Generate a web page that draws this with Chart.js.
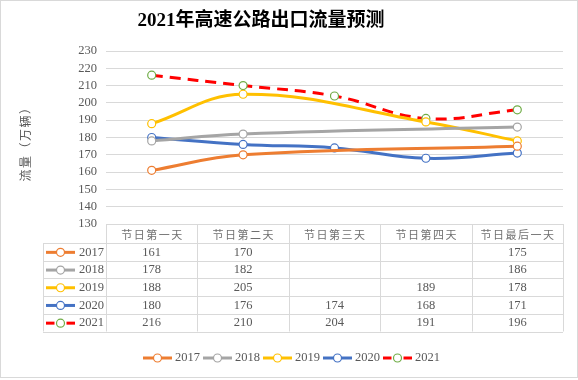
<!DOCTYPE html>
<html>
<head>
<meta charset="utf-8">
<script src="https://cdn.jsdelivr.net/npm/chart.js@4/dist/chart.umd.min.js"></script>
<style>
  html, body { margin: 0; padding: 0; background: #fff; }
  #wrap { width: 578px; height: 380px; }
</style>
</head>
<body>
<div id="wrap"><canvas id="c" width="578" height="380"></canvas></div>
<script>
// data
const categories = ["节日第一天", "节日第二天", "节日第三天", "节日第四天", "节日最后一天"];
const years = ["2017", "2018", "2019", "2020", "2021"];
const flow2017 = [161, 170, null, null, 175];
const flow2018 = [178, 182, null, null, 186];
const flow2019 = [188, 205, null, 189, 178];
const flow2020 = [180, 176, 174, 168, 171];
const flow2021 = [216, 210, 204, 191, 196];
const yMin = 130, yMax = 230, yStep = 10;

const serif = '"Liberation Serif", "Noto Sans CJK SC", serif';
const cjk = '"Noto Sans CJK SC", sans-serif';
const textGray = "#595959";
const lineGray = "#d9d9d9";

const lineColors = ["#ED7D31", "#A5A5A5", "#FFC000", "#4472C4", "#FF0000"];
const markerColors = ["#ED7D31", "#A5A5A5", "#FFC000", "#4472C4", "#70AD47"];
const allFlows = [flow2017, flow2018, flow2019, flow2020, flow2021];

const datasets = years.map((y, i) => ({
  label: y,
  data: allFlows[i],
  borderColor: lineColors[i],
  borderWidth: 3,
  borderDash: i === 4 ? [11, 7] : [],
  pointRadius: 4,
  pointHoverRadius: 4,
  pointBackgroundColor: "#fff",
  pointBorderColor: markerColors[i],
  pointBorderWidth: 1.2,
  tension: 0.4,
  spanGaps: true,
  fill: false
}));

// little line + circle key, used in the table and the legend
function drawKey(ctx, ds, x0, x1, y) {
  ctx.save();
  ctx.strokeStyle = ds.borderColor;
  ctx.lineWidth = 3;
  const cx = (x0 + x1) / 2;
  if (ds.borderDash.length) {
    ctx.beginPath(); ctx.moveTo(x0, y); ctx.lineTo(cx - 6, y); ctx.stroke();
    ctx.beginPath(); ctx.moveTo(cx + 6, y); ctx.lineTo(x1, y); ctx.stroke();
  } else {
    ctx.beginPath(); ctx.moveTo(x0, y); ctx.lineTo(x1, y); ctx.stroke();
  }
  ctx.beginPath();
  ctx.arc(cx, y, 4, 0, Math.PI * 2);
  ctx.fillStyle = "#fff"; ctx.fill();
  ctx.lineWidth = 1.2; ctx.strokeStyle = ds.pointBorderColor; ctx.stroke();
  ctx.restore();
}

const decor = {
  id: "decor",
  beforeDraw(chart) {
    const ctx = chart.ctx;
    ctx.save();
    ctx.fillStyle = "#fff";
    ctx.fillRect(0, 0, chart.width, chart.height);
    ctx.strokeStyle = lineGray;
    ctx.lineWidth = 1;
    ctx.strokeRect(0.5, 0.5, 577, 377);
    ctx.restore();
  },
  afterDraw(chart) {
    const ctx = chart.ctx;
    const area = chart.chartArea;
    const xs = chart.scales.x;
    const n = categories.length;
    const colW = area.width / n;

    ctx.save();
    // title
    ctx.fillStyle = "#000";
    ctx.font = "bold 19px " + serif;
    ctx.textAlign = "center";
    ctx.textBaseline = "middle";
    ctx.fillText("2021年高速公路出口流量预测", 261, 21);

    // y axis title
    ctx.save();
    ctx.translate(25, 141);
    ctx.rotate(-Math.PI / 2);
    ctx.fillStyle = textGray;
    ctx.font = "12px " + cjk;
    ctx.letterSpacing = "1.5px";
    ctx.fillText("流量（万辆）", 0, 0);
    ctx.restore();

    // data table
    const top = area.bottom;
    const headH = 19;
    const rowH = 17.7;
    const keyLeft = 43;
    const tableBottom = top + headH + rowH * years.length;
    ctx.strokeStyle = lineGray;
    ctx.lineWidth = 1;
    const px = v => Math.round(v) + 0.5;
    for (let i = 0; i <= n; i++) {
      const x = px(area.left + colW * i);
      ctx.beginPath(); ctx.moveTo(x, top); ctx.lineTo(x, tableBottom); ctx.stroke();
    }
    ctx.beginPath(); ctx.moveTo(px(keyLeft), top + headH); ctx.lineTo(px(keyLeft), tableBottom); ctx.stroke();
    for (let r = 0; r <= years.length; r++) {
      const y = px(top + headH + rowH * r);
      ctx.beginPath(); ctx.moveTo(keyLeft, y); ctx.lineTo(area.right, y); ctx.stroke();
    }
    // header labels
    ctx.fillStyle = "#707070";
    ctx.font = "11px " + cjk;
    ctx.letterSpacing = "1.5px";
    categories.forEach((c, i) => {
      ctx.fillText(c, xs.getPixelForValue(i) + 0.75, top + headH / 2 + 1);
    });
    ctx.letterSpacing = "0px";
    // rows
    ctx.font = "12.5px " + serif;
    chart.data.datasets.forEach((ds, r) => {
      const y = top + headH + rowH * r + rowH / 2 + 0.5;
      drawKey(ctx, ds, 46, 75, y);
      ctx.fillStyle = textGray;
      ctx.textAlign = "left";
      ctx.fillText(ds.label, 79, y);
      ctx.textAlign = "center";
      ds.data.forEach((v, i) => {
        if (v !== null) ctx.fillText(String(v), xs.getPixelForValue(i), y);
      });
    });

    // bottom legend
    const itemW = [];
    ctx.font = "12.5px " + serif;
    chart.data.datasets.forEach(ds => {
      itemW.push(29 + 3 + ctx.measureText(ds.label).width + 3);
    });
    let x = 143;
    const ly = 358;
    chart.data.datasets.forEach((ds, i) => {
      drawKey(ctx, ds, x, x + 29, ly);
      ctx.fillStyle = textGray;
      ctx.textAlign = "left";
      ctx.fillText(ds.label, x + 32, ly);
      x += itemW[i];
    });
    ctx.restore();
  }
};

new Chart(document.getElementById("c"), {
  type: "line",
  data: { labels: categories, datasets: datasets },
  options: {
    responsive: false,
    animation: false,
    layout: { padding: { left: 0, right: 15, top: 51, bottom: 156 } },
    plugins: { legend: { display: false }, title: { display: false }, tooltip: { enabled: false } },
    scales: {
      x: { display: false, offset: true },
      y: {
        min: yMin, max: yMax,
        afterFit: s => { s.width = 106; },
        ticks: { stepSize: yStep, autoSkip: false, padding: 9, color: textGray, font: { family: serif, size: 12.5 } },
        grid: { color: lineGray, lineWidth: 1, drawTicks: false },
        border: { display: false }
      }
    }
  },
  plugins: [decor]
});
</script>
</body>
</html>
